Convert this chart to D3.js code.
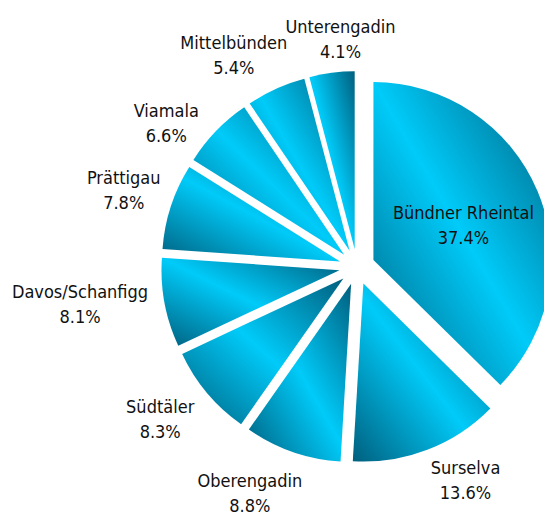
<!DOCTYPE html>
<html>
<head>
<meta charset="utf-8">
<script src="https://cdn.jsdelivr.net/npm/d3@7"></script>
<style>
  body { margin: 0; background: #fff; }
  text { font-family: "DejaVu Sans Condensed", "DejaVu Sans", sans-serif; font-size: 18px; fill: #111; }
</style>
</head>
<body>
<script>
const regions = ["Bündner Rheintal", "Surselva", "Oberengadin", "Südtäler", "Davos/Schanfigg",
                 "Prättigau", "Viamala", "Mittelbünden", "Unterengadin"];
const shares = [37.4, 13.6, 8.8, 8.3, 8.1, 7.8, 6.6, 5.4, 4.1];
const insideLabels = ["Bündner Rheintal"];

// how far (degrees) each label sits off its slice's bisector, like the original placement
const labelTurn = [5.3, -5.3, 5.5, 1.1, 1.5, -1.3, -8.1, -6.5, 3.1];

const width = 544, height = 516;
const cx = 357, cy = 267, radius = 178;
const explode = radius * 0.1;

const data = regions.map(function(r, i) { return { name: r, share: shares[i], turn: labelTurn[i] }; });

const svg = d3.select("body").append("svg")
    .attr("width", width)
    .attr("height", height);

// diagonal dark-light-dark fill, laid over each slice's own box
const grad = svg.append("defs").append("linearGradient")
    .attr("id", "sliceFill")
    .attr("x1", 0).attr("y1", 1)
    .attr("x2", 1).attr("y2", 0);
grad.append("stop").attr("offset", "0%").attr("stop-color", "#005f7e");
grad.append("stop").attr("offset", "50%").attr("stop-color", "#00cbf9");
grad.append("stop").attr("offset", "100%").attr("stop-color", "#005f7e");

const pie = d3.pie().sort(null).value(function(d) { return d.share; });
const arc = d3.arc().innerRadius(0).outerRadius(radius);

const arcs = pie(data);
arcs.forEach(function(a) {
  a.mid = (a.startAngle + a.endAngle) / 2;
  a.ox = explode * Math.sin(a.mid);
  a.oy = -explode * Math.cos(a.mid);
});

const chart = svg.append("g").attr("transform", "translate(" + cx + "," + cy + ")");

chart.selectAll(".slice")
    .data(arcs)
  .enter().append("g")
    .attr("class", "slice")
    .attr("transform", function(d) { return "translate(" + d.ox + "," + d.oy + ")"; })
  .append("path")
    .attr("d", arc)
    .attr("fill", "url(#sliceFill)");

const label = chart.selectAll(".label")
    .data(arcs)
  .enter().append("g")
    .attr("class", "label");

label.append("text")
    .attr("class", "name")
    .attr("text-anchor", "middle")
    .text(function(d) { return d.data.name; });

label.append("text")
    .attr("class", "pct")
    .attr("text-anchor", "middle")
    .text(function(d) { return d.data.share.toFixed(1) + "%"; });

label.each(function(d) {
  const g = d3.select(this);
  const w = Math.max(g.select(".name").node().getComputedTextLength(),
                     g.select(".pct").node().getComputedTextLength());
  const a = d.mid + d.data.turn * Math.PI / 180;
  const s = Math.sin(a), c = Math.cos(a);
  let x, y;
  if (insideLabels.indexOf(d.data.name) >= 0) {
    x = d.ox + radius * 0.53 * s;
    y = d.oy - radius * 0.53 * c;
  } else {
    const gap = 13 - 9 * c - 12 * Math.max(0, -s * c);
    const dist = radius + explode + gap + (w / 2) * Math.abs(s) + 19 * Math.abs(c);
    x = dist * s;
    y = -dist * c;
  }
  g.select(".name").attr("x", x).attr("y", y - 12.5);
  g.select(".pct").attr("x", x).attr("y", y + 12.5);
});
</script>
</body>
</html>
